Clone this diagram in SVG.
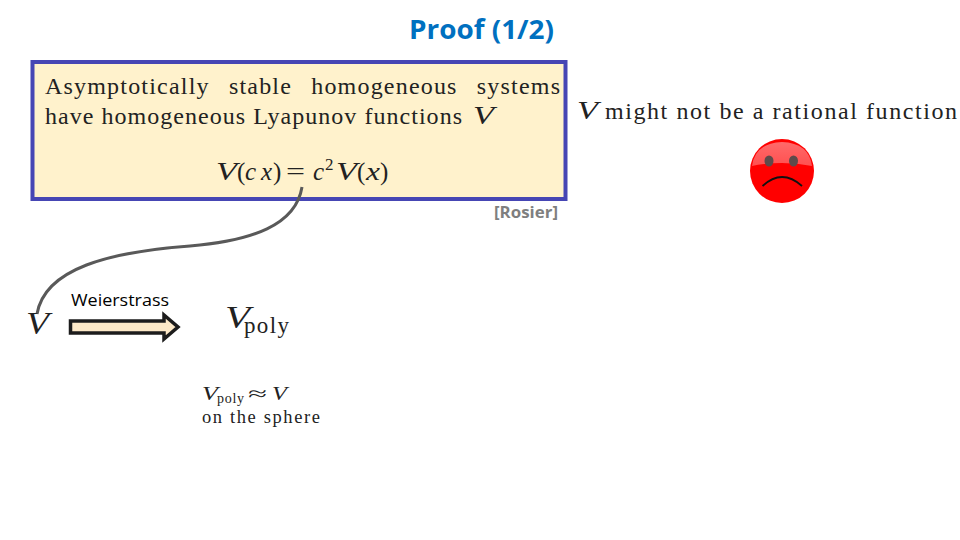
<svg xmlns="http://www.w3.org/2000/svg" width="960" height="540" viewBox="0 0 960 540">
<defs>
<style>
.m{font-family:"Liberation Serif","DejaVu Serif",serif;fill:#222}
.i{font-style:italic}
.s{font-family:"Open Sans","Noto Sans","Liberation Sans",sans-serif}
.f24{font-size:24px}
.f25{font-size:25px}
</style>
<linearGradient id="gloss" x1="0" y1="0" x2="0" y2="1"><stop offset="0" stop-color="#ff6a6a"/><stop offset="1" stop-color="#ff5050"/></linearGradient>
</defs>
<rect width="960" height="540" fill="#fff"/>
<text class="s" x="481.500" y="39" font-size="26.500" font-weight="700" fill="#0070c0" text-anchor="middle" textLength="145" lengthAdjust="spacingAndGlyphs">Proof (1/2)</text>
<g id="box">
<rect x="32.500" y="62" width="533" height="137" fill="#fff2cc" stroke="#4646b4" stroke-width="4"/>
<text class="m f24" x="45" y="94" textLength="515" word-spacing="12">Asymptotically stable homogeneous systems</text>
<text class="m f24" x="45" y="124" textLength="417">have homogeneous Lyapunov functions</text>
<text class="m f25 i" x="473" y="124" textLength="21" lengthAdjust="spacingAndGlyphs">V</text>
<text class="m f25 i" x="216" y="180" textLength="21" lengthAdjust="spacingAndGlyphs">V</text>
<text class="m f25" x="237" y="180">(</text>
<text class="m f25 i" x="245" y="180" textLength="27">cx</text>
<text class="m f25" x="273" y="180">)</text>
<text class="m f25" x="286" y="180" textLength="19" lengthAdjust="spacingAndGlyphs">=</text>
<text class="m f25 i" x="313" y="180">c</text>
<text class="m" x="325" y="170" font-size="17">2</text>
<text class="m f25 i" x="336" y="180" textLength="21" lengthAdjust="spacingAndGlyphs">V</text>
<text class="m f25" x="357" y="180">(</text>
<text class="m f25 i" x="366" y="180" textLength="14" lengthAdjust="spacingAndGlyphs">x</text>
<text class="m f25" x="380" y="180">)</text>
</g>
<g id="citation"><text class="s" x="558" y="218" font-size="15.500" font-weight="700" fill="#7f7f7f" text-anchor="end" textLength="64" lengthAdjust="spacingAndGlyphs">[Rosier]</text></g>
<g id="note-rational">
<text class="m f25 i" x="577" y="119" textLength="21" lengthAdjust="spacingAndGlyphs">V</text>
<text class="m f24" x="605" y="119" textLength="352">might not be a rational function</text>
</g>
<g id="sad-face">
<circle cx="782" cy="171" r="32" fill="#ff0000"/>
<path d="M752 166Q755 143 782 142Q809 143 812 166Q782 160 752 166Z" fill="url(#gloss)"/>
<ellipse cx="769" cy="161" rx="4.500" ry="5.500" fill="#5e4a4a"/>
<ellipse cx="793.500" cy="161" rx="4.500" ry="5.500" fill="#5e4a4a"/>
<path d="M762.500 186Q782 168 802 186" fill="none" stroke="#111" stroke-width="1.800"/>
</g>
<g id="connectors">
<path d="M302 187C296 225 252 241 190 246C110 252 45 268 37 314" fill="none" stroke="#595959" stroke-width="3"/>
</g>
<g id="node-v"><text class="m i" x="26" y="334" font-size="32" textLength="23" lengthAdjust="spacingAndGlyphs">V</text></g>
<g id="weierstrass">
<path d="M70.500 321H164V315L178 327L164 339V333H70.500Z" fill="#fde9c8" stroke="#1c1c1c" stroke-width="3.500"/>
<text class="s" x="71" y="306" font-size="16" fill="#000" textLength="98" lengthAdjust="spacingAndGlyphs">Weierstrass</text>
</g>
<g id="node-vpoly">
<text class="m i" x="225" y="328" font-size="32" textLength="25" lengthAdjust="spacingAndGlyphs">V</text>
<text class="m" x="244" y="333" font-size="23" textLength="45">poly</text>
</g>
<g id="note-sphere">
<text class="m i" x="202" y="400" font-size="19" textLength="16" lengthAdjust="spacingAndGlyphs">V</text>
<text class="m" x="217" y="403" font-size="14" textLength="27">poly</text>
<text class="m" x="248" y="400" font-size="19" textLength="19" lengthAdjust="spacingAndGlyphs">≈</text>
<text class="m i" x="272" y="400" font-size="19" textLength="15" lengthAdjust="spacingAndGlyphs">V</text>
<text class="m" x="202" y="423" font-size="18.500" textLength="118">on the sphere</text>
</g>
</svg>
